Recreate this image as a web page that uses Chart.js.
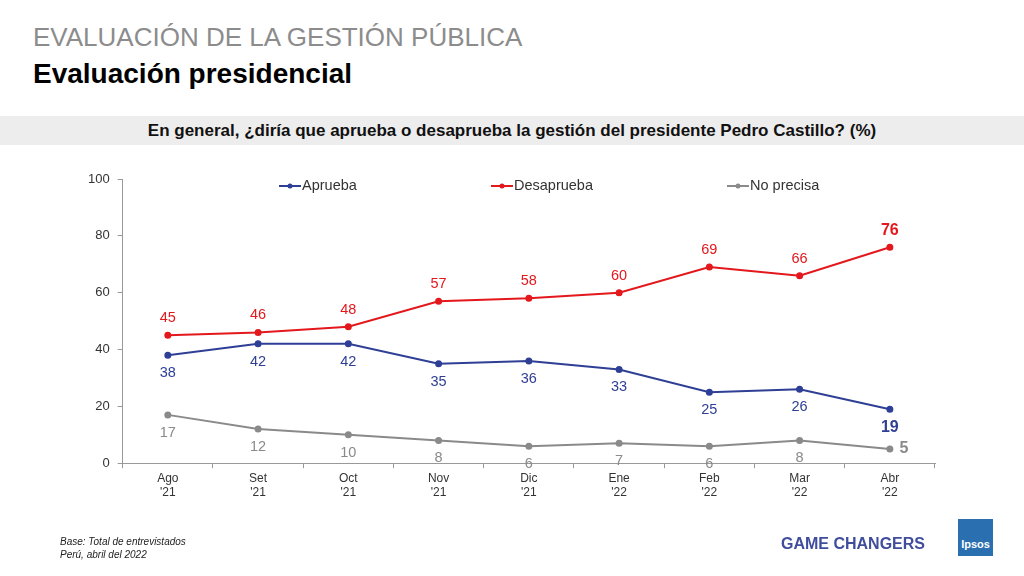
<!DOCTYPE html>
<html><head><meta charset="utf-8">
<script src="https://cdn.jsdelivr.net/npm/chart.js@4"></script>
<style>
body{margin:0;width:1024px;height:576px;background:#fff;font-family:Arial,"Liberation Sans",sans-serif;position:relative;overflow:hidden}
.t1{position:absolute;left:33px;top:22px;font-size:26px;color:#8c8c8c}
.t2{position:absolute;left:33px;top:58px;font-size:28px;font-weight:bold;color:#000}
.band{position:absolute;left:0;top:116px;width:1024px;height:29px;background:#ededed;font-size:17px;font-weight:bold;text-align:center;line-height:29px;color:#111}
.foot{position:absolute;left:60px;top:535px;font-size:10px;font-style:italic;color:#222;line-height:13px}
.gc{position:absolute;left:781px;top:535px;font-size:16px;font-weight:bold;color:#3f4d9c}
.logo{position:absolute;left:958px;top:519px;width:35px;height:37px;background:#2a6fb0;color:#fff;font-size:11px;font-weight:bold;text-align:center;line-height:50px}
#c{position:absolute;left:0;top:0}
</style></head><body>
<div class="t1">EVALUACIÓN DE LA GESTIÓN PÚBLICA</div>
<div class="t2">Evaluación presidencial</div>
<div class="band">En general, ¿diría que aprueba o desaprueba la gestión del presidente Pedro Castillo? (%)</div>
<canvas id="c" width="1024" height="576"></canvas>
<div class="foot">Base: Total de entrevistados<br>Perú, abril del 2022</div>
<div class="gc">GAME CHANGERS</div>
<div class="logo">Ipsos</div>
<script>
const categories = [['Ago',"'21"],['Set',"'21"],['Oct',"'21"],['Nov',"'21"],['Dic',"'21"],['Ene',"'22"],['Feb',"'22"],['Mar',"'22"],['Abr',"'22"]];
const aprueba = [38, 42, 42, 35, 36, 33, 25, 26, 19];
const desaprueba = [45, 46, 48, 57, 58, 60, 69, 66, 76];
const noPrecisa = [17, 12, 10, 8, 6, 7, 6, 8, 5];
const yTicks = [0, 20, 40, 60, 80, 100];

const colors = ['#2e3f95', '#e3181d', '#8a8a8a'];
const labelPlugin = {
  id: 'labels',
  afterDatasetsDraw(chart) {
    const ctx = chart.ctx;
    ctx.save();
    ctx.textAlign = 'center';
    ctx.textBaseline = 'middle';
    chart.data.datasets.forEach((ds, i) => {
      const meta = chart.getDatasetMeta(i);
      meta.data.forEach((pt, j) => {
        const last = j === ds.data.length - 1;
        ctx.fillStyle = colors[i];
        ctx.font = (last ? 'bold 16px' : '14.5px') + ' Arial';
        let x = pt.x, y = pt.y;
        if (i === 1) y -= 17;
        else if (last && i === 2) { x += 14; }
        else y += 18;
        ctx.fillText(ds.data[j], x, y);
      });
    });
    const a = chart.chartArea;
    const ly = a.top + 7;
    const lx = [279, 491, 727];
    chart.data.datasets.forEach((ds, i) => {
      ctx.strokeStyle = colors[i]; ctx.lineWidth = 2;
      ctx.beginPath(); ctx.moveTo(lx[i], ly); ctx.lineTo(lx[i] + 22, ly); ctx.stroke();
      ctx.fillStyle = colors[i];
      ctx.beginPath(); ctx.arc(lx[i] + 11, ly, 2.5, 0, Math.PI * 2); ctx.fill();
      ctx.fillStyle = '#333'; ctx.font = '14.5px Arial'; ctx.textAlign = 'left';
      ctx.fillText(ds.label, lx[i] + 23, ly);
    });
    ctx.restore();
  }
};

const mk = (label, data, c) => ({label, data, borderColor: c, backgroundColor: c, borderWidth: 2, pointRadius: 2.5, pointHoverRadius: 2.5, tension: 0});
new Chart(document.getElementById('c'), {
  type: 'line',
  data: {labels: categories, datasets: [mk('Aprueba', aprueba, colors[0]), mk('Desaprueba', desaprueba, colors[1]), mk('No precisa', noPrecisa, colors[2])]},
  options: {
    responsive: false, animation: false,
    layout: {padding: {left: 80, right: 89, top: 179, bottom: 73}},
    plugins: {legend: {display: false}, tooltip: {enabled: false}},
    scales: {
      x: {offset: true, grid: {offset: true, drawOnChartArea: false, tickLength: 5, color: '#999'}, border: {color: '#999'},
          ticks: {color: '#333', font: {size: 12, family: 'Arial'}, maxRotation: 0}},
      y: {min: 0, max: 100, afterBuildTicks: ax => { ax.ticks = yTicks.map(v => ({value: v})); },
          grid: {drawOnChartArea: false, tickLength: 5, color: '#999'}, border: {color: '#999'},
          ticks: {color: '#333', font: {size: 13, family: 'Arial'}, padding: 8}}
    }
  },
  plugins: [labelPlugin]
});
</script>
</body></html>
